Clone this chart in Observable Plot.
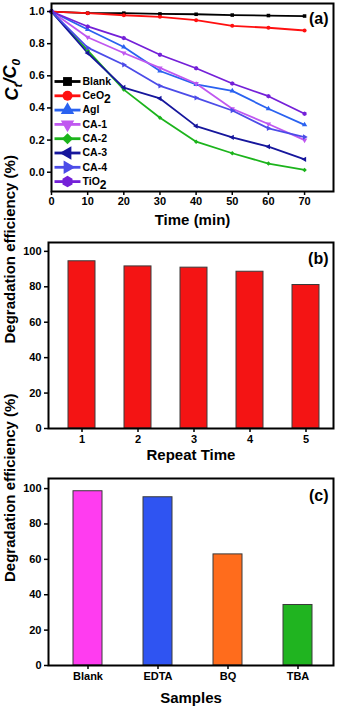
<!DOCTYPE html>
<html><head><meta charset="utf-8">
<script src="https://cdn.jsdelivr.net/npm/d3@7"></script>
<script src="https://cdn.jsdelivr.net/npm/@observablehq/plot@0.6"></script>
<style>
body{margin:0;background:#fff;}
#wrap{position:relative;width:337px;height:708px;}
#wrap > div{position:absolute;left:0;}
svg{overflow:visible}
</style></head><body>
<div id="wrap"><div id="pa" style="top:0"></div><div id="pb" style="top:236px"></div><div id="pc" style="top:464px"></div></div>
<script>
// ---- Panel (a) data ----
const times = [0,10,20,30,40,50,60,70];
const blank = [1.0,0.99,0.99,0.985,0.983,0.978,0.975,0.972];
const ceo2  = [1.0,0.99,0.977,0.967,0.946,0.911,0.899,0.882];
const agi   = [1.0,0.888,0.779,0.63,0.547,0.506,0.395,0.295];
const ca1   = [1.0,0.84,0.742,0.649,0.552,0.395,0.30,0.20];
const ca2   = [1.0,0.758,0.514,0.339,0.19,0.118,0.054,0.014];
const ca3   = [1.0,0.742,0.527,0.459,0.287,0.217,0.159,0.08];
const ca4   = [1.0,0.775,0.669,0.537,0.463,0.384,0.273,0.219];
const tio2  = [1.0,0.907,0.835,0.731,0.647,0.552,0.473,0.364];
const seriesNames = ["Blank","CeO2","AgI","CA-1","CA-2","CA-3","CA-4","TiO2"];
const seriesValues = [blank, ceo2, agi, ca1, ca2, ca3, ca4, tio2];
const seriesColors = ["#000000","#ff1010","#2a62f0","#c058f0","#1cb41c","#16169c","#4c4ce8","#7420d8"];
const seriesSymbols = ["square","circle","triangle","triangle","diamond2","triangle","triangle","hexagon"];
const seriesRotate = [0,0,0,180,0,-90,90,0];
const yTicksA = [0,0.2,0.4,0.6,0.8,1.0];

// ---- Panel (b) data ----
const repeatTimes = [1,2,3,4,5];
const repeatEff = [94.4,91.5,90.8,88.5,81.0];

// ---- Panel (c) data ----
const samples = ["Blank","EDTA","BQ","TBA"];
const sampleEff = [98.5,95.1,62.8,34.2];
const sampleColors = ["#ff3cf0","#2f54f2","#ff6c1c","#20b420"];
const yTicksBC = [0,20,40,60,80,100];

const FONT = "'Liberation Sans', Arial, sans-serif";
const baseStyle = {fontFamily: FONT, fontWeight: "bold", color: "#000", background: "transparent", overflow: "visible"};

const rows = [];
seriesNames.forEach((n,i) => times.forEach((t,j) => rows.push({series:n, t, v: seriesValues[i][j]})));

const legendLine = {draw(ctx){ ctx.rect(-13, -1.4, 26, 2.8); }};

const legendMarks = [];
seriesNames.forEach((n,i) => {
  const dy = 78 + i*14.3;
  legendMarks.push(Plot.dot([n], {frameAnchor:"top-left", dx:16, dy, symbol: legendLine, r: 5, fill: seriesColors[i], stroke: "none"}));
  legendMarks.push(Plot.dot([n], {frameAnchor:"top-left", dx:16, dy, symbol: seriesSymbols[i], rotate: seriesRotate[i], r: 5, fill: seriesColors[i], stroke: "none"}));
  legendMarks.push(Plot.text([n], {frameAnchor:"top-left", dx:31, dy, text: d => d, textAnchor:"start", lineAnchor:"middle", fontSize:10.5, fill:"#000"}));
});

const plotA = Plot.plot({
  width:337, height:236, marginLeft:51, marginRight:4, marginTop:3, marginBottom:45,
  style: baseStyle,
  x:{domain:[0,78]}, y:{domain:[-0.12,1.05]},
  marks:[
    ...seriesNames.map((n,i) => Plot.line(rows.filter(r => r.series===n), {x:"t", y:"v", stroke: seriesColors[i], strokeWidth:1.8})),
    ...seriesNames.map((n,i) => Plot.dot(rows.filter(r => r.series===n), {x:"t", y:"v", symbol: seriesSymbols[i], rotate: seriesRotate[i], r:2, fill: seriesColors[i], stroke:"none"})),
    Plot.axisX({ticks: times, tickSize:4, tickPadding:2, fontSize:11, strokeWidth:1.5, label:null}),
    Plot.axisY({ticks: yTicksA, tickFormat: d3.format(".1f"), tickSize:4, tickPadding:3, fontSize:11, strokeWidth:1.5, label:null}),
    Plot.frame({stroke:"#000", strokeWidth:2}),
    ...legendMarks,
    Plot.text(["(a)"], {frameAnchor:"top-right", dx:-5, dy:15, textAnchor:"end", lineAnchor:"middle", fontSize:16}),
    Plot.text(["Time (min)"], {frameAnchor:"bottom", dy:29, lineAnchor:"middle", fontSize:15}),
    Plot.text(["Ct/C0"], {frameAnchor:"left", dx:-39, dy:3, rotate:-90, lineAnchor:"middle", fontSize:18})
  ]
});
document.getElementById("pa").appendChild(plotA);

const rowsB = repeatTimes.map((r,i) => ({run:r, eff:repeatEff[i]}));
const plotB = Plot.plot({
  width:337, height:228, marginLeft:48, marginRight:4, marginTop:6, marginBottom:36,
  style: baseStyle,
  x:{type:"band", domain: repeatTimes, paddingInner:0.514, paddingOuter:0.284, align:0.58},
  y:{domain:[0,105]},
  marks:[
    Plot.barY(rowsB, {x:"run", y:"eff", fill:"#f41414", stroke:"#3a3a3a", strokeWidth:1}),
    Plot.axisX({tickSize:4, tickPadding:3, fontSize:11, strokeWidth:1.5, label:null}),
    Plot.axisY({ticks: yTicksBC, tickSize:4, tickPadding:3, fontSize:11, strokeWidth:1.5, label:null}),
    Plot.frame({stroke:"#000", strokeWidth:2}),
    Plot.text(["(b)"], {frameAnchor:"top-right", dx:-5, dy:16, textAnchor:"end", lineAnchor:"middle", fontSize:16}),
    Plot.text(["Repeat Time"], {frameAnchor:"bottom", dy:27, lineAnchor:"middle", fontSize:15}),
    Plot.text(["Degradation efficiency (%)"], {frameAnchor:"left", dx:-38, dy:8, rotate:-90, lineAnchor:"middle", fontSize:15})
  ]
});
document.getElementById("pb").appendChild(plotB);

const rowsC = samples.map((s,i) => ({s, eff:sampleEff[i]}));
const plotC = Plot.plot({
  width:337, height:244, marginLeft:48, marginRight:4, marginTop:14, marginBottom:43,
  style: baseStyle,
  x:{type:"band", domain: samples, paddingInner:0.588, paddingOuter:0.318, align:0.55},
  y:{domain:[0,105.7]},
  color:{domain: samples, range: sampleColors},
  marks:[
    Plot.barY(rowsC, {x:"s", y:"eff", fill:"s", stroke:"#3a3a3a", strokeWidth:1}),
    Plot.axisX({tickSize:4, tickPadding:3, fontSize:11, strokeWidth:1.5, label:null}),
    Plot.axisY({ticks: yTicksBC, tickSize:4, tickPadding:3, fontSize:11, strokeWidth:1.5, label:null}),
    Plot.frame({stroke:"#000", strokeWidth:2}),
    Plot.text(["(c)"], {frameAnchor:"top-right", dx:-5, dy:17, textAnchor:"end", lineAnchor:"middle", fontSize:16}),
    Plot.text(["Samples"], {frameAnchor:"bottom", dy:33, lineAnchor:"middle", fontSize:15}),
    Plot.text(["Degradation efficiency (%)"], {frameAnchor:"left", dx:-38, dy:10, rotate:-90, lineAnchor:"middle", fontSize:15})
  ]
});
document.getElementById("pc").appendChild(plotC);

// subscripts
d3.select(plotA).selectAll("text").each(function(){
  const el = d3.select(this);
  const t = this.textContent;
  if (t === "CeO2" || t === "TiO2") {
    el.text(null);
    el.append("tspan").text(t.slice(0,3));
    el.append("tspan").attr("dy", "0.3em").attr("font-size", "1.15em").text("2");
  } else if (t === "Ct/C0") {
    el.text(null).attr("font-style", "italic");
    el.append("tspan").text("C");
    el.append("tspan").attr("dy", "0.3em").attr("font-size", "0.65em").text("t");
    el.append("tspan").attr("dy", "-0.3em").text("/C");
    el.append("tspan").attr("dy", "0.3em").attr("font-size", "0.65em").text("0");
  }
});
</script>
</body></html>
